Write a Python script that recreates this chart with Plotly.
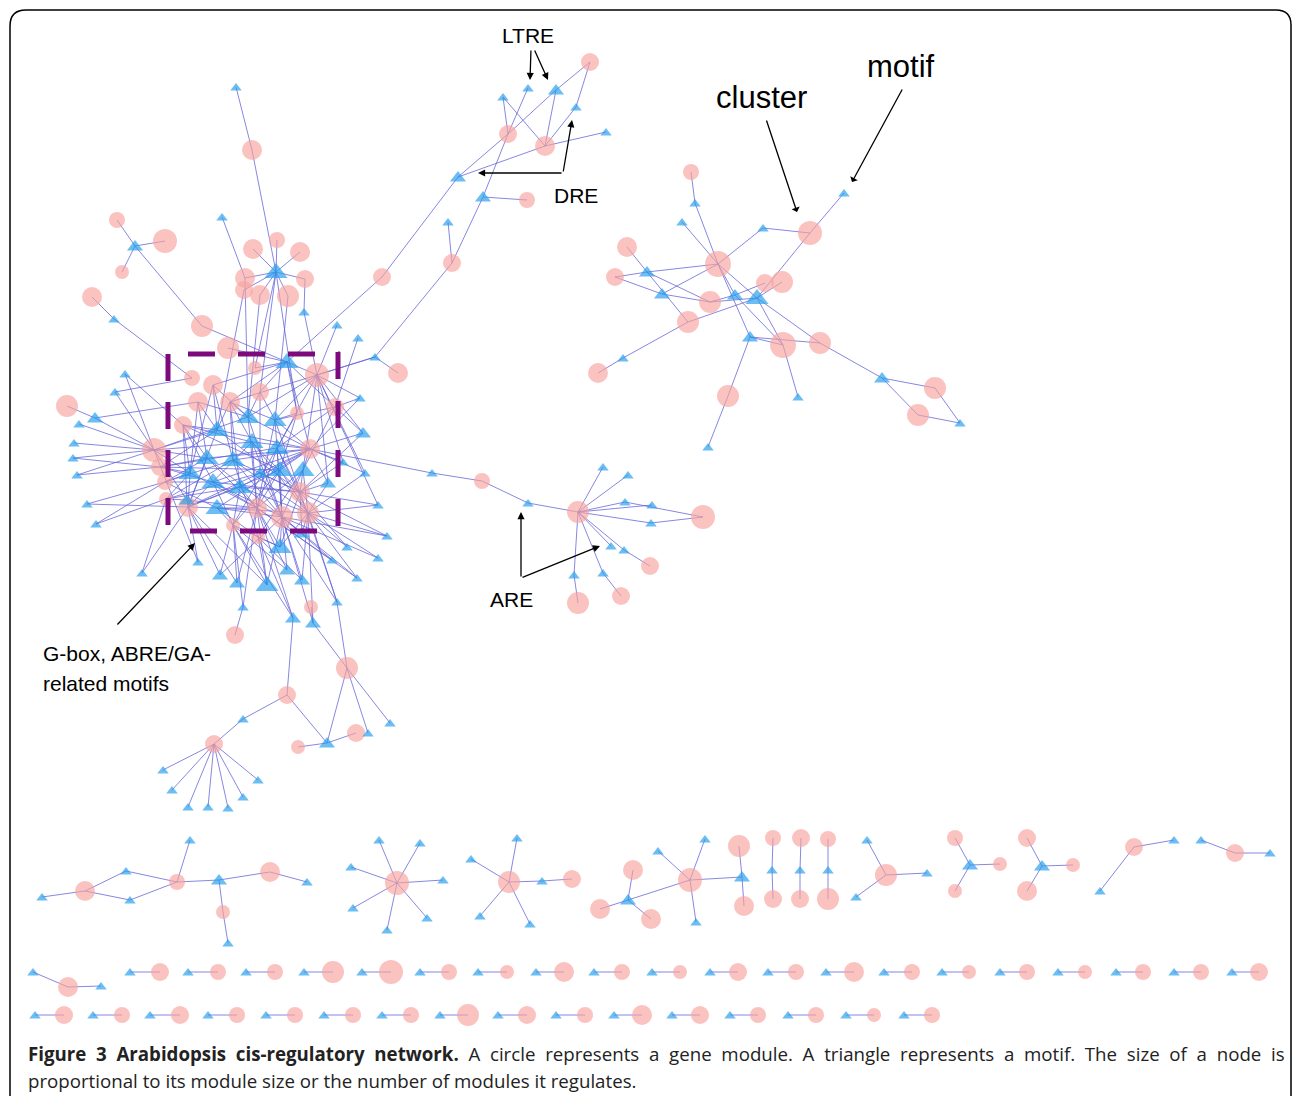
import plotly.graph_objects as go

# ---------------- DATA ----------------
# gene modules (circles): (id, x, y, radius)  -- motifs (triangles): (id, x, y, size class)
top_modules = [("u1",252,150,10),("u2",117,220,8),("u3",165,241,12),("u4",122,272,7),("u5",92,297,10),
    ("u6",277,240,8),("u7",253,249,10),("u8",300,252,10),("u9",245,278,10),("u10",305,279,9),
    ("u11",260,295,10),("u12",288,296,11),("u13",382,277,9),("u14",244,290,9)]
top_motifs = [("v1",236,87,1),("v2",222,217,1),("v3",135,246,2),("v4",114,319,1),("v5",276,272,3),
    ("v6",304,312,1),("v7",337,325,1),("v8",358,338,1)]

core_modules = [("m1",67,406,11),("m2",154,450,12),("m3",160,467,9),("m4",165,482,8),("m5",166,499,7),
    ("m6",192,378,8),("m7",202,326,11),("m8",228,348,11),("m9",255,368,7),("m10",317,375,12),
    ("m11",398,373,10),("m12",213,385,10),("m13",260,392,9),("m14",198,402,10),("m15",230,402,10),
    ("m16",183,425,9),("m17",297,413,7),("m18",335,407,9),("m19",310,449,10),("m20",300,492,10),
    ("m21",257,508,10),("m22",282,517,11),("m23",308,513,11),("m24",188,507,10),("m25",233,525,7),
    ("m26",258,537,7),("m27",311,607,7),("m28",235,635,9)]
core_motifs = [("w1",287,362,3),("w2",375,357,1),("w3",360,398,1),("w4",363,433,2),("w5",248,417,3),
    ("w6",217,430,3),("w7",275,420,3),("w8",252,442,3),("w9",277,448,3),("w10",207,458,3),
    ("w11",233,460,3),("w12",303,470,3),("w13",280,470,3),("w14",260,473,2),("w15",190,473,3),
    ("w16",213,482,3),("w17",240,487,3),("w18",328,483,2),("w19",187,500,2),("w20",217,508,3),
    ("w21",280,547,3),("w22",302,533,2),("w23",343,462,1),("w24",365,473,1),("w25",378,505,1),
    ("w26",387,536,1),("w27",378,558,1),("w28",357,578,1),("w29",332,560,1),("w30",347,547,1),
    ("w31",287,570,2),("w32",267,585,3),("w33",237,583,2),("w34",220,575,2),("w35",198,562,1),
    ("w36",302,580,2),("w37",293,618,2),("w38",313,623,2),("w39",243,607,1),("w40",337,602,1),
    ("w41",142,573,1),("f1",95,418,2),("f2",79,424,1),("f3",125,374,1),("f4",115,392,1),
    ("f5",74,443,1),("f6",73,458,1),("f7",77,475,1),("f8",87,504,1),("f9",96,524,1)]

tail_modules = [("z1",347,668,11),("z2",287,695,9),("z3",356,733,9),("z4",298,747,7),("z5",214,744,9)]
tail_motifs = [("y1",243,719,1),("y2",390,723,1),("y3",368,733,1),("y4",327,743,2),("y5",163,770,1),
    ("y6",172,790,1),("y7",188,807,1),("y8",208,807,1),("y9",228,808,1),("y10",243,797,1),("y11",258,780,1)]

dre_modules = [("d1",590,62,9),("d2",508,134,9),("d3",545,146,10),("d4",527,200,8),("d5",452,263,9)]
dre_motifs = [("e1",528,88,1),("e2",556,90,2),("e3",503,97,1),("e4",576,107,1),("e5",606,132,1),
    ("e6",458,177,2),("e7",483,197,2),("e8",448,222,1)]

are_modules = [("r1",482,481,8),("r2",578,512,11),("r3",703,517,12),("r4",650,566,9),("r5",621,596,9),("r6",578,603,11)]
are_motifs = [("s0",432,473,1),("s1",528,503,1),("s2",603,467,1),("s3",628,475,1),("s4",625,502,1),
    ("s5",652,505,1),("s6",651,523,1),("s7",611,546,1),("s8",624,550,1),("s9",603,573,1),("s10",574,575,1)]

right_modules = [("k1",691,172,8),("k2",810,233,12),("k3",627,247,10),("k4",718,264,13),("k5",615,277,9),
    ("k6",765,283,9),("k7",782,282,11),("k8",710,302,11),("k9",688,322,11),("k10",783,345,13),
    ("k11",820,343,11),("k12",598,373,10),("k13",935,388,11),("k14",918,415,11),("k15",728,396,11)]
right_motifs = [("j1",695,203,1),("j2",682,222,1),("j3",763,228,1),("j4",844,193,1),("j5",647,272,2),
    ("j6",662,294,2),("j7",735,295,2),("j8",757,298,3),("j9",750,337,2),("j10",623,358,1),
    ("j11",882,378,2),("j12",960,423,1),("j13",798,397,1),("j14",708,447,1)]

small_modules = [("b1",85,891,10),("b2",177,882,8),("b3",223,912,7),("b4",270,872,10),("b5",397,883,12),
    ("b6",509,882,11),("b7",572,879,9),("b8",633,870,10),("b9",600,909,10),("b10",651,919,10),
    ("b11",690,880,12),("b12",739,846,11),("b13",744,906,10),("b14",773,838,8),("b15",773,899,9),
    ("b16",801,838,9),("b17",800,899,9),("b18",828,839,8),("b19",828,899,11),("b20",886,875,11),
    ("b21",955,838,8),("b22",1000,864,7),("b23",955,891,7),("b24",1027,838,9),("b25",1073,865,7),
    ("b26",1027,891,10),("b27",1134,847,9),("b28",1235,853,9),("b29",68,987,10)]
small_motifs = [("a1",42,897,1),("a2",126,871,1),("a3",130,900,1),("a4",190,840,1),("a5",219,880,2),
    ("a6",228,943,1),("a7",307,882,1),("a8",379,840,1),("a9",420,843,1),("a10",351,867,1),
    ("a11",443,880,1),("a12",353,908,1),("a13",427,918,1),("a14",387,930,1),("a15",517,838,1),
    ("a16",471,859,1),("a17",542,881,1),("a18",480,916,1),("a19",530,924,1),("a20",628,900,2),
    ("a21",658,851,1),("a22",705,839,1),("a23",696,922,1),("a24",742,877,2),("a25",772,870,1),
    ("a26",800,870,1),("a27",828,870,1),("a28",867,840,1),("a29",927,873,1),("a30",856,897,1),
    ("a31",970,865,2),("a32",1042,866,2),("a33",1100,891,1),("a34",1174,840,1),("a35",1201,840,1),
    ("a36",1270,853,1),("a37",33,972,1),("a38",101,986,1)]

# isolated motif-module pairs
row2_y = 972
row2_motif_x = [130,188,246,304,362,420,478,536,594,652,710,768,826,884,942,1000,1058,1116,1174,1232]
row2_module_x = [160,218,275,333,391,449,507,564,622,680,738,796,854,912,969,1027,1085,1143,1201,1259]
row2_module_r = [9,8,8,11,12,8,7,10,8,7,9,8,10,8,7,8,7,8,8,9]
row3_y = 1015
row3_motif_x = [35,93,150,208,266,324,382,440,498,556,614,672,730,788,846,904]
row3_module_x = [64,122,180,237,295,353,411,468,527,585,642,700,758,816,874,932]
row3_module_r = [9,8,9,8,8,8,8,11,9,8,10,9,8,8,7,8]

# links: motif -> regulated modules
links = [
    ("v1","u1"),("v2","u9"),("v3","u2 u3 u4 m7"),("v4","u5 m6"),
    ("v5","u1 u6 u7 u8 u9 u10 u11 u12 u14 m9 m13 m17"),("v6","u10 m10"),("v7","m10"),("v8","m18"),
    ("w1","m7 m8 m9 m10 m13 m17 m18 m12 u13 m19 m15"),("w2","m11 m10 m15 d5"),
    ("w3","m10 m18 m19"),("w4","m10 m18 m19 m20"),
    ("w5","m12 m13 m14 m15 m10 m19 m21 m22 m2 u9 u11"),("w6","m14 m16 m2 m3 m12 m15 m19 m20 m24 u14"),
    ("w7","m10 m13 m17 m18 m19 m20 m22 m21 m15 u12"),("w8","m15 m16 m19 m21 m22 m23 m2 m20 m24"),
    ("w9","m10 m17 m18 m20 m21 m23 m22 m3 m25"),("w10","m2 m3 m4 m14 m16 m21 m22 m19 m24"),
    ("w11","m12 m15 m19 m20 m22 m23 m4 m5 m26"),("w12","m10 m18 m19 m20 m23 m22 m21 m26"),
    ("w13","m16 m17 m19 m21 m22 m23 m24 m25 m3"),("w14","m13 m19 m20 m22 m24 m5"),
    ("w15","m2 m3 m4 m5 m14 m16 m21 m24 m12"),("w16","m3 m4 m16 m21 m22 m25 m19 m20"),
    ("w17","m15 m19 m20 m21 m23 m24 m5 m25"),("w18","m19 m20 m23 m10"),("w19","m2 m5 m24 m16 m21"),
    ("w20","m4 m21 m22 m23 m24 m25 m19 m26"),("w21","m21 m22 m23 m25 m26 m20"),("w22","m22 m23 m20"),
    ("w23","m19 m10 m20"),("w24","m19 m10 m23"),("w25","m20 m23 m10"),("w26","m20 m22 m23"),
    ("w27","m23 m22"),("w28","m22 m23 m21"),("w29","m21 m22"),("w30","m23 m20"),("w31","m21 m22 m25"),
    ("w32","m21 m24 m22 m25 m26"),("w33","m25 m21 m24"),("w34","m24 m25 m22"),("w35","m24 m2"),
    ("w36","m22 m23 m26"),("w37","m26 m21 m25 z2"),("w38","m27 m22 m23 z1"),("w39","m28 m25 m21"),
    ("w40","m23 m20 m22 z1"),("w41","m24 m5"),
    ("f1","m1 m2 m14"),("f2","m2"),("f3","m2 m16"),("f4","m2 m6"),("f5","m2"),("f6","m2 m3"),
    ("f7","m2 m3"),("f8","m4 m24"),("f9","m4 m5"),
    ("y1","z2 z5"),("y2","z1"),("y3","z1"),("y4","z1 z2 z3 z4"),("y5","z5"),("y6","z5"),("y7","z5"),
    ("y8","z5"),("y9","z5"),("y10","z5"),("y11","z5"),
    ("e1","d2"),("e2","d1 d2 d3"),("e3","d2 d3"),("e4","d1 d3"),("e5","d3"),("e6","d2 d3 u13"),
    ("e7","d2 d4 d5"),("e8","d5"),
    ("s0","m19 r1"),("s1","r1 r2"),("s2","r2"),("s3","r2"),("s4","r2 r3"),("s5","r2"),("s6","r2 r3"),
    ("s7","r2"),("s8","r2 r4"),("s9","r2 r5"),("s10","r2 r6"),
    ("j1","k1 k4"),("j2","k4"),("j3","k4 k2"),("j4","k2"),("j5","k3 k4 k5 k9 k8"),("j6","k5 k8 k4"),
    ("j7","k4 k8 k10 k6"),("j8","k2 k4 k8 k9 k10 k11 k7"),("j9","k4 k10 k11 k15"),("j10","k9 k12"),
    ("j11","k11 k13 k14"),("j12","k13 k14"),("j13","k10"),("j14","k15"),
    ("a1","b1"),("a2","b1 b2"),("a3","b1 b2"),("a4","b2"),("a5","b2 b3 b4"),("a6","b3"),("a7","b4"),
    ("a8","b5"),("a9","b5"),("a10","b5"),("a11","b5"),("a12","b5"),("a13","b5"),("a14","b5"),
    ("a15","b6"),("a16","b6"),("a17","b6 b7"),("a18","b6"),("a19","b6"),
    ("a20","b8 b9 b10 b11"),("a21","b11"),("a22","b11"),("a23","b11"),("a24","b11 b12 b13"),
    ("a25","b14 b15"),("a26","b16 b17"),("a27","b18 b19"),("a28","b20"),("a29","b20"),("a30","b20"),
    ("a31","b21 b22 b23"),("a32","b24 b25 b26"),("a33","b27"),("a34","b27"),("a35","b28"),("a36","b28"),
    ("a37","b29"),("a38","b29"),
]

caption_bold = "Figure 3 Arabidopsis cis-regulatory network."
caption_line1 = "A circle represents a gene module. A triangle represents a motif. The size of a node is"
caption_line2 = "proportional to its module size or the number of modules it regulates."

# ---------------- BUILD ----------------
module_groups = [top_modules, core_modules, tail_modules, dre_modules, are_modules, right_modules, small_modules]
motif_groups = [top_motifs, core_motifs, tail_motifs, dre_motifs, are_motifs, right_motifs, small_motifs]
modules = [n for g in module_groups for n in g]
motifs = [n for g in motif_groups for n in g]
for i, (mx, cx, r) in enumerate(zip(row2_motif_x, row2_module_x, row2_module_r)):
    motifs.append((f"p2t{i}", mx, row2_y, 1)); modules.append((f"p2c{i}", cx, row2_y, r))
    links.append((f"p2t{i}", f"p2c{i}"))
for i, (mx, cx, r) in enumerate(zip(row3_motif_x, row3_module_x, row3_module_r)):
    motifs.append((f"p3t{i}", mx, row3_y, 1)); modules.append((f"p3c{i}", cx, row3_y, r))
    links.append((f"p3t{i}", f"p3c{i}"))

pos = {n[0]: (n[1], n[2]) for n in modules + motifs}
ex, ey = [], []
for src, dsts in links:
    for d in dsts.split():
        x0, y0 = pos[src]; x1, y1 = pos[d]
        ex += [x0, x1, None]; ey += [y0, y1, None]

W, H = 1293, 1097
fig = go.Figure()
fig.add_trace(go.Scatter(x=ex, y=ey, mode="lines", hoverinfo="skip",
                         line=dict(color="rgba(95,95,215,0.75)", width=1)))
fig.add_trace(go.Scatter(x=[n[1] for n in modules], y=[n[2] for n in modules], mode="markers",
                         marker=dict(symbol="circle", size=[2 * n[3] for n in modules],
                                     color="rgba(247,163,158,0.93)", line=dict(width=0))))
tri_px = {1: 10, 2: 14, 3: 20}
fig.add_trace(go.Scatter(x=[n[1] for n in motifs], y=[n[2] + 1 for n in motifs], mode="markers",
                         marker=dict(symbol="triangle-up", size=[tri_px[n[3]] for n in motifs],
                                     color="rgba(34,157,236,0.95)", line=dict(width=0))))

box = dict(color="#7d0a7d", width=5)
shapes = [
    dict(type="line", xref="x", yref="y", x0=188, x1=340, y0=354, y1=354, layer="above",
         line=dict(box, dash="27px,23px")),
    dict(type="line", xref="x", yref="y", x0=190, x1=340, y0=531, y1=531, layer="above",
         line=dict(box, dash="27px,23px")),
    dict(type="line", xref="x", yref="y", x0=168, x1=168, y0=354, y1=531, layer="above",
         line=dict(box, dash="27px,21px")),
    dict(type="line", xref="x", yref="y", x0=338, x1=338, y0=352, y1=531, layer="above",
         line=dict(box, dash="27px,22px")),
    dict(type="path", xref="x", yref="y", layer="above",
         path="M 10,1096 L 10,26 Q 10,10 26,10 L 1276,10 Q 1291,10 1291,25 L 1291,1096",
         line=dict(color="#000", width=1.5)),
]

ann = []
def label(x, y, t, size, xanchor="center"):
    ann.append(dict(x=x, y=y, xref="x", yref="y", text=t, showarrow=False, xanchor=xanchor,
                    yanchor="middle", font=dict(family="Liberation Sans, Arial", size=size, color="#000")))
def arrow(x0, y0, x1, y1, head=2):
    ann.append(dict(x=x1, y=y1, ax=x0, ay=y0, xref="x", yref="y", axref="x", ayref="y", text="",
                    showarrow=True, arrowhead=head, arrowsize=1.1, arrowwidth=1.3, arrowcolor="#000"))

label(528, 35, "LTRE", 21); arrow(531, 49, 530, 80); arrow(534, 49, 548, 80)
label(576, 195, "DRE", 21); arrow(563, 173, 478, 173); arrow(563, 173, 572, 120)
label(761, 97, "cluster", 31); arrow(766, 119, 797, 212, head=1)
label(901, 66, "motif", 31); arrow(903, 88, 852, 182, head=1)
label(511, 599, "ARE", 21); arrow(521, 578, 521, 512); arrow(521, 578, 600, 546)
label(41, 653, "G-box, ABRE/GA-", 21, "left"); label(41, 683, "related motifs", 21, "left")
arrow(116, 626, 195, 543)

# justified first caption line: widen each word gap
gap = " &nbsp;"
line1 = "<b>" + gap.join(caption_bold.split(" ")) + "</b>" + gap + gap.join(caption_line1.split(" "))
cap_font = "Open Sans, Noto Sans, sans-serif"
ann.append(dict(x=26, y=1053, xref="x", yref="y", showarrow=False, xanchor="left", yanchor="middle",
                text=line1, font=dict(family=cap_font, size=18.7, color="#222")))
ann.append(dict(x=26, y=1080, xref="x", yref="y", showarrow=False, xanchor="left", yanchor="middle",
                text=caption_line2, font=dict(family=cap_font, size=18.7, color="#222")))

fig.update_layout(width=W, height=H, autosize=False, margin=dict(l=0, r=0, t=0, b=0),
                  paper_bgcolor="white", plot_bgcolor="white", showlegend=False,
                  shapes=shapes, annotations=ann,
                  xaxis=dict(range=[0, W], visible=False, fixedrange=True),
                  yaxis=dict(range=[H, 0], visible=False, fixedrange=True))
fig.write_html("out.html", config={"displayModeBar": False},
               post_script="document.body.style.margin='0px';document.body.style.overflow='hidden';")
